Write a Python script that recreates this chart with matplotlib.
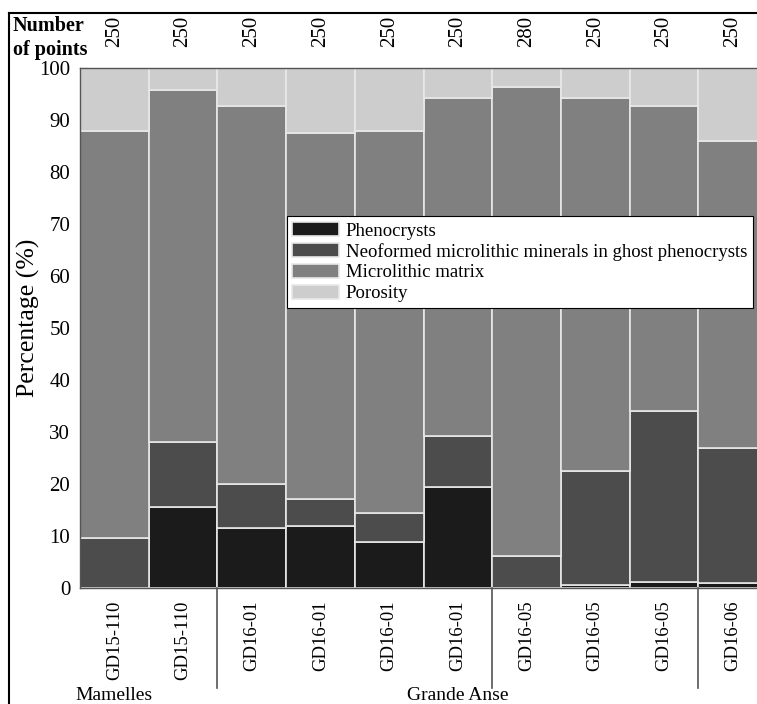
import matplotlib
matplotlib.use("Agg")
import matplotlib.pyplot as plt
from matplotlib.lines import Line2D
import numpy as np

plt.rcParams['font.family'] = ['Liberation Serif', 'DejaVu Serif']

samples = ["GD15-110", "GD15-110", "GD16-01", "GD16-01", "GD16-01", "GD16-01",
           "GD16-05", "GD16-05", "GD16-05", "GD16-06"]
n_points = ["250", "250", "250", "250", "250", "250", "280", "250", "250", "250"]
phenocrysts = [0.0, 15.6, 11.6, 12.0, 8.8, 19.5, 0.0, 0.5, 1.1, 0.9]
neoformed = [9.6, 12.5, 8.4, 5.2, 5.6, 9.7, 6.1, 22.0, 33.0, 26.0]
matrix = [78.3, 67.7, 72.6, 70.3, 73.5, 65.1, 90.2, 71.8, 58.5, 59.1]
porosity = [12.1, 4.2, 7.4, 12.5, 12.1, 5.7, 3.7, 5.7, 7.4, 14.0]
series_names = ["Phenocrysts", "Neoformed microlithic minerals in ghost phenocrysts",
                "Microlithic matrix", "Porosity"]
series_colors = ["#1b1b1b", "#4c4c4c", "#808080", "#cdcdcd"]
groups = ["Mamelles", "Grande Anse"]
group_centers = [0.0, 5.0]
separators = [1.5, 5.5, 8.5]

W, H = 757, 704
fig = plt.figure(figsize=(W / 100, H / 100), dpi=100)
ax = fig.add_axes([80 / W, 116 / H, 687 / W, 520 / H])

x = np.arange(len(samples))
bottom = np.zeros(len(samples))
for vals, name, col in zip([phenocrysts, neoformed, matrix, porosity], series_names, series_colors):
    ax.bar(x, vals, width=1.0, bottom=bottom, color=col, edgecolor="#e8e8e8",
           linewidth=1.2, label=name, zorder=2)
    bottom += np.array(vals)

ax.set_xlim(-0.5, len(samples) - 0.5)
ax.set_ylim(0, 100)
ax.set_yticks(np.arange(0, 101, 10))
ax.set_xticks(x)
ax.set_xticklabels(samples, rotation=90, fontsize=13.5)
ax.tick_params(axis='x', direction='in', length=6, color='#666666', pad=9, top=True)
ax.tick_params(axis='y', direction='in', length=6, color='#666666', labelsize=15, pad=7)
for side in ['top', 'bottom', 'left', 'right']:
    ax.spines[side].set_color('#555555')
    ax.spines[side].set_linewidth(1.0)
    ax.spines[side].set_zorder(3)

ax.set_ylabel("Percentage (%)", fontsize=18.5)
ax.yaxis.set_label_coords(-0.058, 0.52)

sec = ax.secondary_xaxis('top')
sec.set_xticks(x)
sec.set_xticklabels(n_points, rotation=90, fontsize=15)
sec.tick_params(length=0, pad=15)
sec.spines['top'].set_visible(False)

fig.text(13 / W, 1 - 26 / H, "Number", fontsize=14.5, fontweight='bold', ha='left', va='center')
fig.text(13 / W, 1 - 50 / H, "of points", fontsize=14.5, fontweight='bold', ha='left', va='center')

leg = ax.legend(loc='upper left', bbox_to_anchor=(0.301, 0.715), borderaxespad=0,
                fontsize=13.5, frameon=True, fancybox=False, framealpha=1,
                edgecolor='black', handlelength=2.5, handleheight=0.8,
                labelspacing=0.17, borderpad=0.3, handletextpad=0.35)
leg.get_frame().set_linewidth(0.8)
leg.set_zorder(5)

# group separators
for s in separators:
    ax.plot([s, s], [0, -0.192], color='#555555', lw=1.2, clip_on=False,
            transform=ax.get_xaxis_transform(), zorder=4)
for g, c in zip(groups, group_centers):
    ax.text(c, -0.206, g, transform=ax.get_xaxis_transform(), ha='center', va='center',
            fontsize=14)

# outer border
fig.add_artist(Line2D([9 / W, 9 / W], [0, 1 - 13 / H], color='black', lw=1.5,
                      transform=fig.transFigure))
fig.add_artist(Line2D([9 / W, 1], [1 - 13 / H, 1 - 13 / H], color='black', lw=1.5,
                      transform=fig.transFigure))

fig.savefig("out.png", dpi=100)
